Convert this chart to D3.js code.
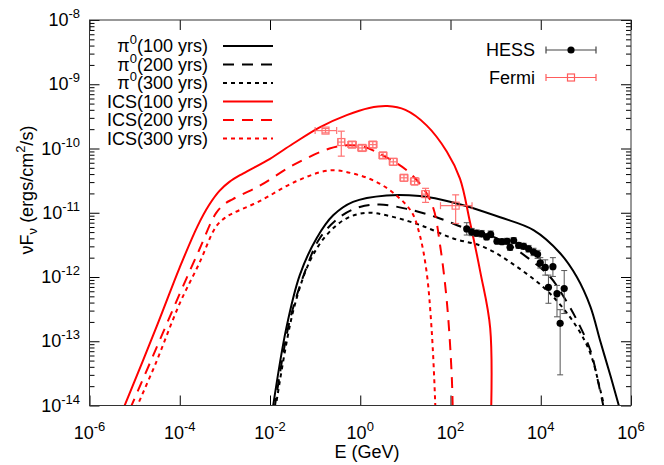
<!DOCTYPE html>
<html><head><meta charset="utf-8">
<script src="https://cdn.jsdelivr.net/npm/d3@7/dist/d3.min.js"></script>
<style>body{margin:0;background:#fff}svg{display:block;font-family:"Liberation Sans",Arial,Helvetica,sans-serif}</style>
</head><body><svg id="c" width="664" height="465"></svg>
<script>
// ---- tick exponents ----
const xTickExp = [-6, -4, -2, 0, 2, 4, 6];
const yTickExp = [-14, -13, -12, -11, -10, -9, -8];

// ---- model curves: [log10(E/GeV), log10(nuFnu / erg cm^-2 s^-1)] ----
const pi100 = [[-1.94,-14.05],[-1.64,-12.80],[-1.34,-11.97],[-0.97,-11.40],[-0.60,-11.04],[-0.16,-10.83],[0.58,-10.73],[1.32,-10.74],[2.06,-10.84],[3.10,-11.07],[3.84,-11.27],[4.43,-11.63],[4.80,-12.00],[5.10,-12.46],[5.32,-13.00],[5.55,-13.55],[5.75,-14.05]];
const pi200 = [[-1.90,-14.05],[-1.57,-12.70],[-1.20,-11.87],[-0.90,-11.40],[-0.46,-11.07],[-0.01,-10.91],[0.43,-10.87],[1.03,-10.94],[1.69,-11.07],[2.36,-11.25],[3.10,-11.42],[3.69,-11.69],[4.21,-12.00],[4.51,-12.31],[4.80,-12.67],[5.10,-13.14],[5.28,-13.66],[5.40,-14.05]];
const pi300 = [[-1.88,-14.05],[-1.49,-12.54],[-1.12,-11.76],[-0.75,-11.35],[-0.31,-11.09],[0.14,-11.00],[0.58,-11.04],[1.32,-11.19],[2.06,-11.40],[2.73,-11.53],[3.47,-11.84],[4.21,-12.26],[4.80,-12.78],[5.10,-13.19],[5.32,-13.76],[5.42,-14.05]];
const ics100 = [[-5.25,-14.05],[-4.5,-12.75],[-4.0,-11.85],[-3.6,-11.2],[-3.35,-10.88],[-3.12,-10.66],[-2.9,-10.52],[-2.6,-10.39],[-2.0,-10.16],[-1.5,-9.93],[-0.9,-9.67],[-0.3,-9.48],[0.2,-9.37],[0.6,-9.34],[1.0,-9.40],[1.47,-9.64],[1.92,-10.05],[2.21,-10.47],[2.43,-11.14],[2.66,-11.92],[2.88,-12.80],[2.885,-14.5]];
const ics200 = [[-5.1,-14.05],[-4.6,-13.24],[-4.0,-12.26],[-3.57,-11.58],[-3.2,-11.01],[-3.0,-10.86],[-2.83,-10.79],[-2.23,-10.58],[-1.49,-10.26],[-0.68,-10.00],[-0.3,-9.95],[0.06,-9.97],[0.51,-10.11],[1.03,-10.34],[1.40,-10.62],[1.62,-10.93],[1.77,-11.51],[1.92,-12.39],[2.03,-13.58],[2.06,-14.5]];
const ics300 = [[-4.97,-14.05],[-4.53,-13.34],[-4.0,-12.41],[-3.57,-11.79],[-3.2,-11.22],[-3.0,-11.08],[-2.83,-11.01],[-2.23,-10.82],[-1.42,-10.51],[-0.68,-10.34],[-0.16,-10.39],[0.36,-10.52],[0.80,-10.73],[1.14,-10.99],[1.32,-11.35],[1.47,-11.92],[1.58,-12.80],[1.66,-13.94],[1.68,-14.5]];

// ---- Fermi data (GeV, erg cm^-2 s^-1) ----
const fermiE   = [0.17, 0.38, 0.66, 1.10, 1.9, 3.2, 5.4, 9.3, 16, 28, 130];
const fermiElo = [0.10, 0.32, 0.53, 0.88, 1.55, 2.6, 4.4, 7.6, 13, 23, 60];
const fermiEhi = [0.30, 0.45, 0.82, 1.38, 2.35, 3.9, 6.6, 11.4, 20, 34, 300];
const fermiF   = [1.9e-10, 1.26e-10, 1.15e-10, 1.02e-10, 1.15e-10, 7.8e-11, 6.2e-11, 3.5e-11, 3.1e-11, 1.95e-11, 1.29e-11];
const fermiFlo = [1.75e-10, 7.6e-11, 1.03e-10, 0.92e-10, 1.03e-10, 7.0e-11, 5.5e-11, 3.1e-11, 2.7e-11, 1.45e-11, 6.8e-12];
const fermiFhi = [2.05e-10, 1.86e-10, 1.28e-10, 1.13e-10, 1.28e-10, 8.7e-11, 7.0e-11, 3.9e-11, 3.5e-11, 2.4e-11, 1.9e-11];

// ---- HESS data (GeV, erg cm^-2 s^-1) ----
const hessE   = [229, 295, 380, 490, 631, 776, 1070, 1380, 1780, 2090, 2510, 3240, 4170, 5370, 6920, 8510, 9770, 12600, 18600, 14800, 22900, 33100, 26900];
const hessF   = [5.6e-12, 5.0e-12, 4.8e-12, 4.7e-12, 4.2e-12, 4.6e-12, 3.6e-12, 3.55e-12, 3.6e-12, 2.9e-12, 3.7e-12, 3.1e-12, 3.0e-12, 2.75e-12, 2.45e-12, 2.25e-12, 1.66e-12, 1.41e-12, 1.45e-12, 6.9e-13, 5.5e-13, 6.6e-13, 1.9e-13];
const hessFlo = [4.5e-12, 4.4e-12, 4.3e-12, 4.2e-12, 3.8e-12, 4.1e-12, 3.3e-12, 3.2e-12, 3.25e-12, 2.6e-12, 3.3e-12, 2.8e-12, 2.7e-12, 2.45e-12, 2.15e-12, 1.95e-12, 1.38e-12, 1.07e-12, 1.02e-12, 3.9e-13, 2.4e-13, 2.7e-13, 3.0e-14];
const hessFhi = [7.0e-12, 5.7e-12, 5.4e-12, 5.3e-12, 4.7e-12, 5.2e-12, 3.95e-12, 3.9e-12, 4.0e-12, 3.25e-12, 4.1e-12, 3.45e-12, 3.35e-12, 3.1e-12, 2.8e-12, 2.6e-12, 2.0e-12, 1.85e-12, 2.0e-12, 1.07e-12, 7.4e-13, 1.26e-12, 3.1e-13];

// ---- legend ----
const curveLabels = ["π0(100 yrs)", "π0(200 yrs)", "π0(300 yrs)", "ICS(100 yrs)", "ICS(200 yrs)", "ICS(300 yrs)"];
const dataLabels = ["HESS", "Fermi"];

// ---- layout ----
const L = 89.5, R = 631, T = 20, B = 405.5;
const svg = d3.select("#c");
const x = d3.scaleLog().domain([1e-6, 1e6]).range([L, R]);
const y = d3.scaleLog().domain([1e-14, 1e-8]).range([B, T]);
const FONT = 18, SUP = 13;

const DASH = "11,8", DOT = "4,4";
const curves = [
  {d: pi100, c: "#000", dash: null},
  {d: pi200, c: "#000", dash: DASH},
  {d: pi300, c: "#000", dash: DOT},
  {d: ics100, c: "#ff0000", dash: null},
  {d: ics200, c: "#ff0000", dash: DASH},
  {d: ics300, c: "#ff0000", dash: DOT},
];

svg.append("defs").append("clipPath").attr("id", "clip")
  .append("rect").attr("x", L).attr("y", T).attr("width", R - L).attr("height", B - T);

// axes (ticks inward, mirrored)
const xt = xTickExp.map(e => Math.pow(10, e));
const yMajor = yTickExp.map(e => Math.pow(10, e));
const yMinor = [];
yTickExp.slice(0, -1).forEach(e => { for (let k = 2; k <= 9; k++) yMinor.push(k * Math.pow(10, e)); });

function styleAxis(g) { g.select(".domain").remove(); g.selectAll("line").attr("stroke", "#000").attr("stroke-width", 1); g.selectAll("text").remove(); }
svg.append("g").attr("transform", `translate(0,${B})`).call(d3.axisBottom(x).tickValues(xt).tickSize(-10).tickFormat("")).call(styleAxis);
svg.append("g").attr("transform", `translate(0,${T})`).call(d3.axisTop(x).tickValues(xt).tickSize(-10).tickFormat("")).call(styleAxis);
svg.append("g").attr("transform", `translate(${L},0)`).call(d3.axisLeft(y).tickValues(yMajor).tickSize(-10).tickFormat("")).call(styleAxis);
svg.append("g").attr("transform", `translate(${R},0)`).call(d3.axisRight(y).tickValues(yMajor).tickSize(-10).tickFormat("")).call(styleAxis);
svg.append("g").attr("transform", `translate(${L},0)`).call(d3.axisLeft(y).tickValues(yMinor).tickSize(-5).tickFormat("")).call(styleAxis);
svg.append("g").attr("transform", `translate(${R},0)`).call(d3.axisRight(y).tickValues(yMinor).tickSize(-5).tickFormat("")).call(styleAxis);

// tick labels
xTickExp.forEach(e => {
  const t = svg.append("text").attr("x", x(Math.pow(10, e))).attr("y", 439).attr("text-anchor", "middle").attr("font-size", FONT).attr("fill", "#000");
  t.append("tspan").text("10");
  t.append("tspan").attr("dy", -8).attr("font-size", SUP).text(e);
});
yTickExp.forEach(e => {
  const t = svg.append("text").attr("x", 80).attr("y", y(Math.pow(10, e)) + 6).attr("text-anchor", "end").attr("font-size", FONT).attr("fill", "#000");
  t.append("tspan").text("10");
  t.append("tspan").attr("dy", -8).attr("font-size", SUP).text(e);
});

// axis titles
svg.append("text").attr("x", 367).attr("y", 458).attr("text-anchor", "middle").attr("font-size", FONT).text("E (GeV)");
const yl = svg.append("text").attr("transform", "translate(33,190) rotate(-90)").attr("text-anchor", "middle").attr("font-size", FONT);
yl.append("tspan").text("νF");
yl.append("tspan").attr("dy", 4).attr("font-size", SUP).text("ν");
yl.append("tspan").attr("dy", -4).text(" (ergs/cm");
yl.append("tspan").attr("dy", -8).attr("font-size", SUP).text("2");
yl.append("tspan").attr("dy", 8).text("/s)");

// curves
const line = d3.line().x(d => x(Math.pow(10, d[0]))).y(d => y(Math.pow(10, d[1]))).curve(d3.curveCatmullRom.alpha(0.5));
const cg = svg.append("g").attr("clip-path", "url(#clip)");
curves.forEach(cv => {
  cg.append("path").attr("d", line(cv.d)).attr("fill", "none").attr("stroke", cv.c).attr("stroke-width", 2)
    .attr("stroke-dasharray", cv.dash);
});

// Fermi points
const FC = "#ff5c5c";
const fg = svg.append("g").attr("stroke", FC).attr("stroke-width", 1.2).attr("fill", "none").attr("opacity", 0.85);
fermiE.forEach((e, i) => {
  const px = x(e), py = y(fermiF[i]);
  const x0 = x(fermiElo[i]), x1 = x(fermiEhi[i]);
  const y0 = y(fermiFlo[i]), y1 = y(fermiFhi[i]);
  fg.append("line").attr("x1", x0).attr("x2", x1).attr("y1", py).attr("y2", py);
  fg.append("line").attr("x1", x0).attr("x2", x0).attr("y1", py - 3.5).attr("y2", py + 3.5);
  fg.append("line").attr("x1", x1).attr("x2", x1).attr("y1", py - 3.5).attr("y2", py + 3.5);
  fg.append("line").attr("x1", px).attr("x2", px).attr("y1", y0).attr("y2", y1);
  fg.append("line").attr("x1", px - 3.5).attr("x2", px + 3.5).attr("y1", y0).attr("y2", y0);
  fg.append("line").attr("x1", px - 3.5).attr("x2", px + 3.5).attr("y1", y1).attr("y2", y1);
  fg.append("rect").attr("x", px - 3.5).attr("y", py - 3.5).attr("width", 7).attr("height", 7);
});

// HESS points
const hg = svg.append("g");
hessE.forEach((e, i) => {
  const px = x(e), py = y(hessF[i]);
  const y0 = y(hessFlo[i]), y1 = y(hessFhi[i]);
  hg.append("line").attr("x1", px).attr("x2", px).attr("y1", y0).attr("y2", y1).attr("stroke", "#555").attr("stroke-width", 1);
  hg.append("line").attr("x1", px - 3).attr("x2", px + 3).attr("y1", y0).attr("y2", y0).attr("stroke", "#555");
  hg.append("line").attr("x1", px - 3).attr("x2", px + 3).attr("y1", y1).attr("y2", y1).attr("stroke", "#555");
});
hessE.forEach((e, i) => {
  hg.append("circle").attr("cx", x(e)).attr("cy", y(hessF[i])).attr("r", 3.6).attr("fill", "#000");
});

// border
svg.append("rect").attr("x", L).attr("y", T).attr("width", R - L).attr("height", B - T).attr("fill", "none").attr("stroke", "#333").attr("stroke-width", 1);

// legend (curves)
const lg = svg.append("g");
curveLabels.forEach((lab, i) => {
  const ly = 46 + i * 18.5;
  const t = lg.append("text").attr("x", 208).attr("y", ly + 6).attr("text-anchor", "end").attr("font-size", FONT);
  if (lab.startsWith("π0")) {
    t.append("tspan").text("π");
    t.append("tspan").attr("dy", -8).attr("font-size", SUP).text("0");
    t.append("tspan").attr("dy", 8).text(lab.slice(2));
  } else t.text(lab);
  lg.append("line").attr("x1", 223).attr("x2", 273).attr("y1", ly).attr("y2", ly)
    .attr("stroke", curves[i].c).attr("stroke-width", 2).attr("stroke-dasharray", curves[i].dash);
});

// legend (data)
dataLabels.forEach((lab, i) => {
  const ly = 50 + i * 27.5;
  svg.append("text").attr("x", 535).attr("y", ly + 6).attr("text-anchor", "end").attr("font-size", FONT).text(lab);
  const col = i === 0 ? "#444" : FC;
  const g = svg.append("g").attr("stroke", col).attr("stroke-width", 1.2).attr("fill", "none");
  g.append("line").attr("x1", 546).attr("x2", 596).attr("y1", ly).attr("y2", ly);
  g.append("line").attr("x1", 546).attr("x2", 546).attr("y1", ly - 3.5).attr("y2", ly + 3.5);
  g.append("line").attr("x1", 596).attr("x2", 596).attr("y1", ly - 3.5).attr("y2", ly + 3.5);
  if (i === 0) svg.append("circle").attr("cx", 571).attr("cy", ly).attr("r", 3.6).attr("fill", "#000");
  else g.append("rect").attr("x", 567.5).attr("y", ly - 3.5).attr("width", 7).attr("height", 7);
});
</script></body></html>
